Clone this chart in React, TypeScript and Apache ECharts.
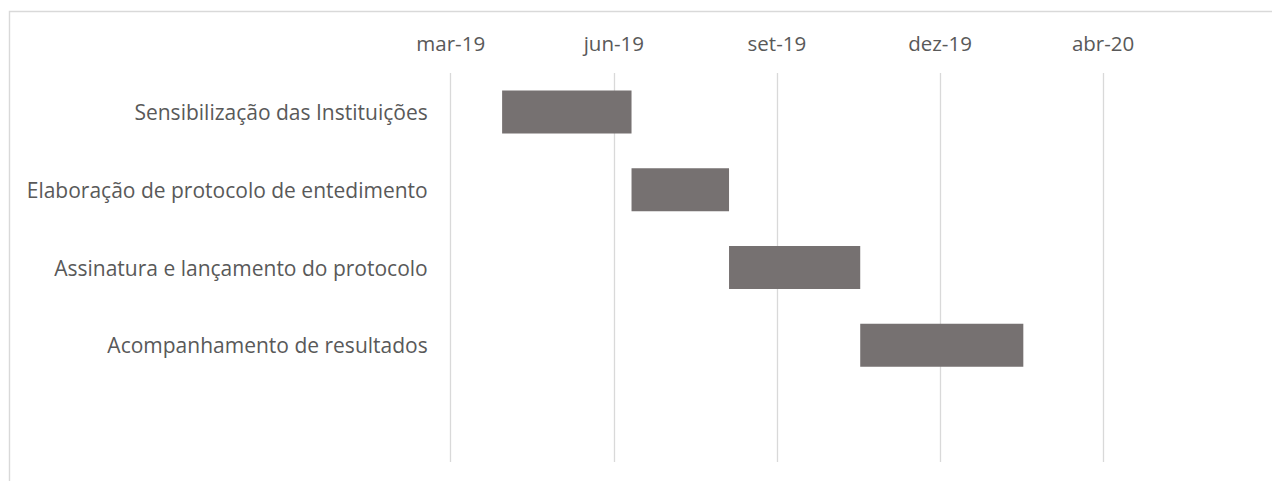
import React, { useEffect, useRef } from "react";
import * as echarts from "echarts";

const tasks = [
  "Sensibilização das Instituições",
  "Elaboração de protocolo de entedimento",
  "Assinatura e lançamento do protocolo",
  "Acompanhamento de resultados",
  "",
];
const startDates = ["2019-04-28", "2019-07-10", "2019-09-03", "2019-11-16"];
const durationDays = [73, 55, 74, 92];
const axisStartDate = "2019-03-30";
const tickIntervalDays = 92;
const tickCount = 4;
const monthNames = ["jan", "fev", "mar", "abr", "mai", "jun", "jul", "ago", "set", "out", "nov", "dez"];

const DAY = 86400000;
const base = Date.parse(axisStartDate + "T00:00:00Z");
const toOffset = (d: string) => Math.round((Date.parse(d + "T00:00:00Z") - base) / DAY);
const fmt = (v: number) => {
  const dt = new Date(base + v * DAY);
  return monthNames[dt.getUTCMonth()] + "-" + String(dt.getUTCFullYear()).slice(2);
};

export default function App() {
  const ref = useRef<HTMLDivElement>(null);
  useEffect(() => {
    document.body.style.margin = "0";
    const chart = echarts.init(ref.current!, null, { renderer: "svg" });
    const font = "'Open Sans', sans-serif";
    chart.setOption({
      animation: false,
      backgroundColor: "#ffffff",
      grid: { left: 450.7, top: 73, width: 652.4, height: 389, containLabel: false },
      xAxis: {
        type: "value",
        position: "top",
        min: 0,
        max: tickIntervalDays * tickCount,
        interval: tickIntervalDays,
        axisLine: { show: false },
        axisTick: { show: false },
        axisLabel: {
          formatter: (v: number) => fmt(v),
          color: "#595959",
          fontFamily: font,
          fontSize: 20.5,
          margin: 20,
        },
        splitLine: { show: true, lineStyle: { color: "#d9d9d9", width: 1.3 } },
      },
      yAxis: {
        type: "category",
        inverse: true,
        data: tasks,
        axisLine: { show: false },
        axisTick: { show: false },
        splitLine: { show: false },
        axisLabel: {
          color: "#595959",
          fontFamily: font,
          fontSize: 21,
          margin: 23,
        },
      },
      series: [
        {
          type: "bar",
          stack: "g",
          data: startDates.map(toOffset),
          itemStyle: { color: "transparent" },
          barWidth: 43,
          silent: true,
        },
        {
          type: "bar",
          stack: "g",
          data: durationDays,
          itemStyle: { color: "#767171" },
          barWidth: 43,
        },
      ],
      graphic: [
        {
          type: "rect",
          shape: { x: 9.5, y: 11.5, width: 1400, height: 600 },
          style: { fill: "none", stroke: "#d9d9d9", lineWidth: 1.4 },
          silent: true,
        },
      ],
    });
    return () => chart.dispose();
  }, []);
  return <div ref={ref} style={{ width: 1272, height: 481 }} />;
}
